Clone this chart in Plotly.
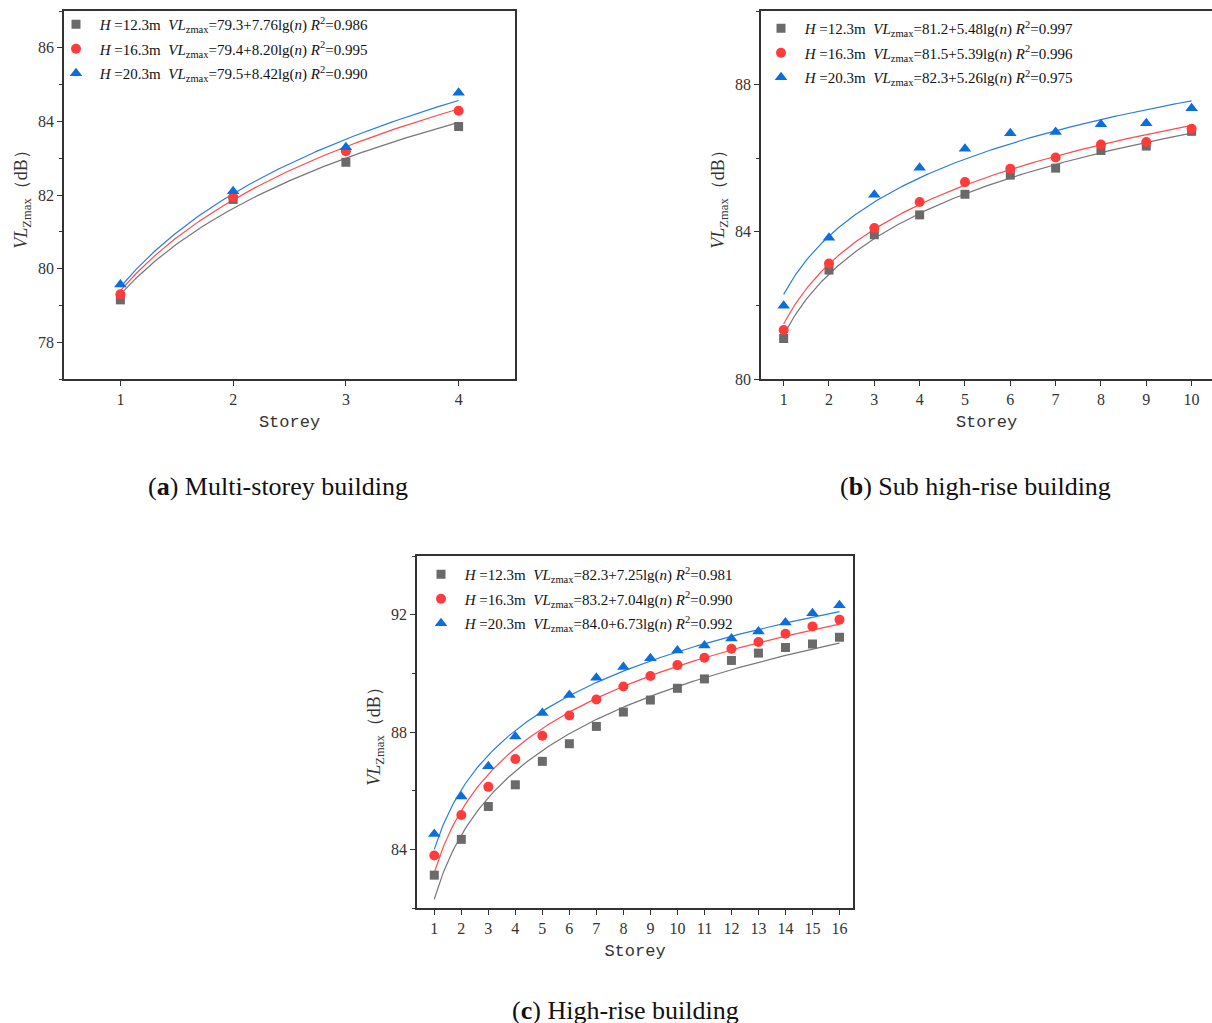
import numpy as np
import plotly.graph_objects as go

# ---------------- data ----------------
heights = ["12.3", "16.3", "20.3"]

# (a) Multi-storey building
storey_a = [1, 2, 3, 4]
a_h123 = [79.15, 81.88, 82.89, 83.86]
a_h163 = [79.30, 81.94, 83.19, 84.29]
a_h203 = [79.57, 82.10, 83.30, 84.78]
a_fit_b0 = [79.3, 79.4, 79.5]
a_fit_b1 = [7.76, 8.20, 8.42]
a_r2 = ["0.986", "0.995", "0.990"]

# (b) Sub high-rise building
storey_b = [1, 2, 3, 4, 5, 6, 7, 8, 9, 10]
b_h123 = [81.10, 82.96, 83.92, 84.46, 85.02, 85.54, 85.73, 86.21, 86.33, 86.73]
b_h163 = [81.33, 83.14, 84.10, 84.81, 85.35, 85.71, 86.02, 86.37, 86.44, 86.80]
b_h203 = [81.99, 83.84, 85.01, 85.74, 86.26, 86.68, 86.71, 86.92, 86.95, 87.36]
b_fit_b0 = [81.2, 81.5, 82.3]
b_fit_b1 = [5.48, 5.39, 5.26]
b_r2 = ["0.997", "0.996", "0.975"]

# (c) High-rise building
storey_c = list(range(1, 17))
c_h123 = [83.12, 84.34, 85.46, 86.20, 87.00, 87.60, 88.19, 88.68, 89.09, 89.49,
          89.81, 90.44, 90.69, 90.88, 91.00, 91.23]
c_h163 = [83.79, 85.17, 86.13, 87.08, 87.87, 88.56, 89.11, 89.55, 89.91, 90.28,
          90.53, 90.84, 91.07, 91.35, 91.60, 91.83]
c_h203 = [84.52, 85.80, 86.83, 87.85, 88.65, 89.26, 89.85, 90.22, 90.51, 90.78,
          90.95, 91.19, 91.43, 91.73, 92.05, 92.32]
c_fit_b0 = [82.3, 83.2, 84.0]
c_fit_b1 = [7.25, 7.04, 6.73]
c_r2 = ["0.981", "0.990", "0.992"]

captions = ["(<b>a</b>) Multi-storey building",
            "(<b>b</b>) Sub high-rise building",
            "(<b>c</b>) High-rise building"]

# ---------------- style ----------------
W, H_REF = 1212, 1023
H = 1032  # page is photographed slightly compressed vertically
marker_colors = ["#6a6a6a", "#ff3b3b", "#0a6fdc"]
line_colors = ["#777777", "#ff4a4a", "#2a7de0"]
symbols = ["square", "circle", "triangle-up"]
msizes = [9, 10, 11]
SERIF = "Liberation Serif"
MONO = "Liberation Mono"
AXC = "#333333"

def px_x(p):
    return p / W

def px_y(p):
    return 1 - p / H_REF

panels = [
    dict(storey=storey_a, ys=[a_h123, a_h163, a_h203], b0=a_fit_b0, b1=a_fit_b1, r2=a_r2,
         xdom=[px_x(64), px_x(515)], ydom=[px_y(379), px_y(11)],
         xrange=[0.5, 4.5], yrange=[77, 87], dtick=2, ymirror=True,
         leg=(px_x(56), px_y(8)), cap=(px_x(278), px_y(486))),
    dict(storey=storey_b, ys=[b_h123, b_h163, b_h203], b0=b_fit_b0, b1=b_fit_b1, r2=b_r2,
         xdom=[px_x(761), 1.0], ydom=[px_y(379), px_y(11)],
         xrange=[0.5, 10.45], yrange=[80, 90], dtick=4, ymirror=False,
         leg=(px_x(761), px_y(12)), cap=(px_x(975), px_y(486))),
    dict(storey=storey_c, ys=[c_h123, c_h163, c_h203], b0=c_fit_b0, b1=c_fit_b1, r2=c_r2,
         xdom=[px_x(417), px_x(853)], ydom=[px_y(908), px_y(556)],
         xrange=[0.36, 16.5], yrange=[82, 94], dtick=4, ymirror=True,
         leg=(px_x(421), px_y(558)), cap=(px_x(625), px_y(1010))),
]

fig = go.Figure()
layout = dict(width=W, height=H, margin=dict(l=0, r=0, t=0, b=0),
              paper_bgcolor="white", plot_bgcolor="white", showlegend=True,
              font=dict(family=SERIF, color="#222222"))
annotations = []

for k, p in enumerate(panels):
    sfx = "" if k == 0 else str(k + 1)
    xa, ya = "x" + sfx, "y" + sfx
    legname = "legend" if k == 0 else "legend" + str(k + 1)
    nmax = max(p["storey"])
    nn = np.linspace(1, nmax, 200)
    for i in range(3):
        # fitted curve from displayed regression coefficients
        fy = p["b0"][i] + p["b1"][i] * np.log10(nn)
        fig.add_trace(go.Scatter(x=nn, y=fy, mode="lines", xaxis=xa, yaxis=ya,
                                 line=dict(color=line_colors[i], width=1.2),
                                 showlegend=False, hoverinfo="skip"))
    for i in range(3):
        name = (f" <i>H</i> ={heights[i]}m  <i>VL</i><sub>zmax</sub>={p['b0'][i]:.1f}+"
                f"{p['b1'][i]:.2f}lg(<i>n</i>) <i>R</i><sup>2</sup>={p['r2'][i]}")
        fig.add_trace(go.Scatter(x=p["storey"], y=p["ys"][i], mode="markers",
                                 xaxis=xa, yaxis=ya, name=name, legend=legname,
                                 legendgroup=f"g{k}{i}",
                                 marker=dict(symbol=symbols[i], size=msizes[i],
                                             color=marker_colors[i], line=dict(width=0))))
    layout["xaxis" + sfx] = dict(
        domain=p["xdom"], anchor=ya, range=p["xrange"], tickmode="array",
        tickvals=p["storey"], ticks="outside", ticklen=5, tickwidth=1.3,
        tickcolor=AXC, showline=True, linewidth=1.5, linecolor=AXC, mirror=True,
        showgrid=False, zeroline=False,
        tickfont=dict(family=SERIF, size=16, color="#333333"),
        title=dict(text="Storey", font=dict(family=MONO, size=17, color="#333333"),
                   standoff=8))
    layout["yaxis" + sfx] = dict(
        domain=p["ydom"], anchor=xa, range=p["yrange"], dtick=p["dtick"],
        tick0=0, ticks="outside", ticklen=5, tickwidth=1.3, tickcolor=AXC,
        minor=dict(dtick=p["dtick"] / 2, ticks="outside", ticklen=3, tickcolor=AXC,
                   showgrid=False),
        showline=True, linewidth=1.5, linecolor=AXC, mirror=p["ymirror"],
        showgrid=False, zeroline=False,
        tickfont=dict(family=SERIF, size=16, color="#333333"),
        title=dict(text="<i>VL</i><sub>Zmax</sub>（dB）",
                   font=dict(family=SERIF, size=18, color="#333333"), standoff=6))
    layout[legname] = dict(x=p["leg"][0], y=p["leg"][1], xanchor="left", yanchor="top",
                           bgcolor="rgba(0,0,0,0)", borderwidth=0,
                           font=dict(family=SERIF, size=15, color="#111111"),
                           traceorder="grouped", tracegroupgap=2, itemwidth=30)
    annotations.append(dict(x=p["cap"][0], y=p["cap"][1], xref="paper", yref="paper",
                            xanchor="center", yanchor="middle",
                            text=captions[k], showarrow=False,
                            font=dict(family=SERIF, size=26, color="#111111")))

layout["annotations"] = annotations
fig.update_layout(**layout)

post = (
    "document.documentElement.style.margin='0';"
    "document.documentElement.style.overflow='hidden';"
    "document.body.style.margin='0';"
    "document.body.style.overflow='hidden';"
    "var d=document.getElementById('{plot_id}');"
    "d.style.position='absolute';d.style.top='0px';d.style.left='0px';"
)
fig.write_html("out.html", config={"displayModeBar": False}, post_script=post)
